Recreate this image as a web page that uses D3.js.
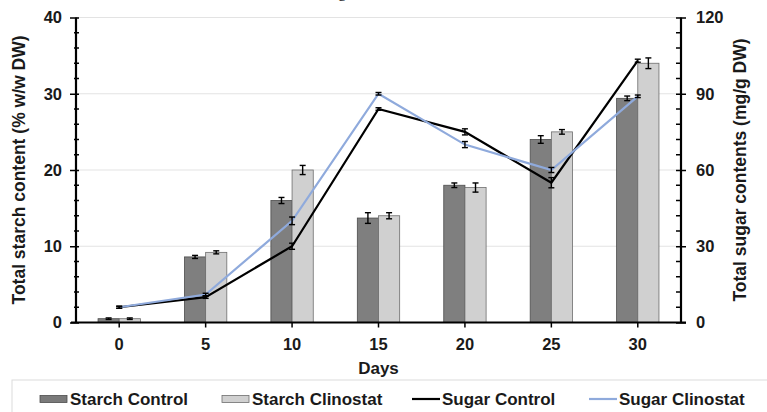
<!DOCTYPE html>
<html>
<head>
<meta charset="utf-8">
<script src="https://cdn.jsdelivr.net/npm/d3@7.9.0/dist/d3.min.js"></script>
<style>
  body { margin: 0; background: #fff; }
  svg { display: block; font-family: "Liberation Sans", Arial, sans-serif; font-weight: bold; }
</style>
</head>
<body>
<svg id="chart" width="767" height="412"></svg>
<script>
// data
const days = [0, 5, 10, 15, 20, 25, 30];
const starchControl = [0.5, 8.6, 16.0, 13.7, 18.0, 24.0, 29.4];
const starchControlErr = [0.1, 0.2, 0.4, 0.7, 0.3, 0.5, 0.3];
const starchClino = [0.5, 9.2, 20.0, 14.0, 17.7, 25.0, 34.0];
const starchClinoErr = [0.1, 0.2, 0.6, 0.4, 0.6, 0.3, 0.7];
const sugarControl = [6, 10, 30, 84, 75, 55, 103];
const sugarControlErr = [0.4, 0.5, 1.2, 0.5, 1.2, 2.0, 0.6];
const sugarClino = [6, 11, 40, 90, 70, 60, 89];
const sugarClinoErr = [0.4, 0.5, 1.5, 0.5, 1.2, 1.0, 0.5];
const leftTicks = [0, 10, 20, 30, 40];
const rightTicks = [0, 30, 60, 90, 120];

const svg = d3.select('#chart');
const plotL = 76, plotR = 681, plotT = 17.5, plotB = 322.5;

const x = d3.scaleBand().domain(days).range([plotL, plotR]);
const yL = d3.scaleLinear().domain([0, 40]).range([plotB, plotT]);
const yR = d3.scaleLinear().domain([0, 120]).range([plotB, plotT]);
const barW = x.bandwidth() * 0.245;
const cx = d => x(d) + x.bandwidth() / 2;

// cropped title above the chart (only a descender shows)
svg.append('text').attr('x', 338).attr('y', -3)
  .attr('font-family', '"Liberation Serif", serif').attr('font-weight', 'normal')
  .attr('font-size', 17).attr('fill', '#222').text('g');

// gridlines
svg.append('g').selectAll('line').data(leftTicks.slice(1)).join('line')
  .attr('x1', plotL).attr('x2', plotR)
  .attr('y1', d => yL(d)).attr('y2', d => yL(d))
  .attr('stroke', '#e3e3e3').attr('stroke-width', 1);

// bars
const bars = svg.append('g');
bars.selectAll('.bc').data(days).join('rect')
  .attr('x', d => cx(d) - barW).attr('width', barW)
  .attr('y', (d, i) => yL(starchControl[i]))
  .attr('height', (d, i) => plotB - yL(starchControl[i]))
  .attr('fill', '#7f7f7f').attr('stroke', '#4d4d4d').attr('stroke-width', 0.8);
bars.selectAll('.bl').data(days).join('rect')
  .attr('x', d => cx(d)).attr('width', barW)
  .attr('y', (d, i) => yL(starchClino[i]))
  .attr('height', (d, i) => plotB - yL(starchClino[i]))
  .attr('fill', '#d0d0d0').attr('stroke', '#6e6e6e').attr('stroke-width', 0.8);

function errorBars(xs, vals, errs, scale) {
  const g = svg.append('g').attr('stroke', '#000').attr('stroke-width', 1.4);
  vals.forEach((v, i) => {
    const px = xs[i], y1 = scale(v - errs[i]), y2 = scale(v + errs[i]);
    g.append('line').attr('x1', px).attr('x2', px).attr('y1', y1).attr('y2', y2);
    g.append('line').attr('x1', px - 3).attr('x2', px + 3).attr('y1', y1).attr('y2', y1);
    g.append('line').attr('x1', px - 3).attr('x2', px + 3).attr('y1', y2).attr('y2', y2);
  });
}
errorBars(days.map(d => cx(d) - barW / 2), starchControl, starchControlErr, yL);
errorBars(days.map(d => cx(d) + barW / 2), starchClino, starchClinoErr, yL);

// lines
const line = d3.line().x((d, i) => cx(days[i])).y(d => yR(d));
svg.append('path').datum(sugarControl).attr('d', line)
  .attr('fill', 'none').attr('stroke', '#000').attr('stroke-width', 2.2);
svg.append('path').datum(sugarClino).attr('d', line)
  .attr('fill', 'none').attr('stroke', '#8faadc').attr('stroke-width', 2.2);
errorBars(days.map(cx), sugarControl, sugarControlErr, yR);
errorBars(days.map(cx), sugarClino, sugarClinoErr, yR);

// axes
const axL = svg.append('g').attr('transform', `translate(${plotL},0)`)
  .call(d3.axisLeft(yL).tickValues(leftTicks).tickSize(6).tickPadding(8));
axL.selectAll('.tick line').attr('x2', -6).attr('x1', 3);
svg.append('g').attr('transform', `translate(${plotL},0)`)
  .selectAll('line').data(d3.range(2, 40, 2).filter(v => v % 10)).join('line')
  .attr('x1', -2).attr('x2', 3).attr('y1', d => yL(d)).attr('y2', d => yL(d))
  .attr('stroke', '#000').attr('stroke-width', 1.5);

const axR = svg.append('g').attr('transform', `translate(${plotR},0)`)
  .call(d3.axisRight(yR).tickValues(rightTicks).tickSize(5).tickPadding(10));
axR.selectAll('.tick line').attr('x1', -5).attr('x2', 5);
svg.append('g').attr('transform', `translate(${plotR},0)`)
  .selectAll('line').data(d3.range(6, 120, 6).filter(v => v % 30)).join('line')
  .attr('x1', -5).attr('x2', 0).attr('y1', d => yR(d)).attr('y2', d => yR(d))
  .attr('stroke', '#000').attr('stroke-width', 1.5);

const axB = svg.append('g').attr('transform', `translate(0,${plotB})`)
  .call(d3.axisBottom(x).tickSize(5).tickPadding(11));

[axL, axR, axB].forEach(a => {
  a.select('.domain').attr('stroke', '#000').attr('stroke-width', 2.2);
  a.selectAll('.tick line').attr('stroke', '#000').attr('stroke-width', 1.5);
  a.selectAll('text').attr('font-size', 16.5).attr('font-family', '"Liberation Sans", Arial, sans-serif')
    .attr('font-weight', 'bold').attr('fill', '#1a1a1a');
});
axB.select('.domain').attr('d', `M${plotL - 5},0H${plotR + 5}`);
axL.select('.domain').attr('d', `M0,${plotT}V${plotB}`);
axR.select('.domain').attr('d', `M0,${plotT}V${plotB}`);

// axis titles
svg.append('text').attr('x', cx(15)).attr('y', 374).attr('text-anchor', 'middle')
  .attr('font-size', 17).attr('fill', '#1a1a1a').text('Days');
svg.append('text').attr('transform', `translate(25,${(plotT + plotB) / 2}) rotate(-90)`)
  .attr('text-anchor', 'middle').attr('font-size', 17.5).attr('fill', '#1a1a1a')
  .text('Total starch content (% w/w DW)');
svg.append('text').attr('transform', `translate(746,${(plotT + plotB) / 2}) rotate(-90)`)
  .attr('text-anchor', 'middle').attr('font-size', 17.5).attr('fill', '#1a1a1a')
  .text('Total sugar contents (mg/g DW)');

// legend
svg.append('rect').attr('x', 12).attr('y', 380).attr('width', 800).attr('height', 60)
  .attr('fill', 'none').attr('stroke', '#dcdcdc').attr('stroke-width', 1);
const legendItems = [
  { label: 'Starch Control', x: 40, type: 'bar', fill: '#7a7a7a', stroke: '#4d4d4d' },
  { label: 'Starch Clinostat', x: 222, type: 'bar', fill: '#d0d0d0', stroke: '#6e6e6e' },
  { label: 'Sugar Control', x: 412, type: 'line', stroke: '#000' },
  { label: 'Sugar Clinostat', x: 589, type: 'line', stroke: '#8faadc' }
];
const lg = svg.append('g').selectAll('g').data(legendItems).join('g')
  .attr('transform', d => `translate(${d.x},0)`);
lg.filter(d => d.type === 'bar').append('rect')
  .attr('x', 0).attr('y', 395.5).attr('width', 27).attr('height', 7)
  .attr('fill', d => d.fill).attr('stroke', d => d.stroke).attr('stroke-width', 0.8);
lg.filter(d => d.type === 'line').append('line')
  .attr('x1', 0).attr('x2', 28).attr('y1', 399).attr('y2', 399)
  .attr('stroke', d => d.stroke).attr('stroke-width', 2.2);
lg.append('text').attr('x', 30).attr('y', 405).attr('font-size', 17).attr('fill', '#1a1a1a')
  .text(d => d.label);
</script>
</body>
</html>
